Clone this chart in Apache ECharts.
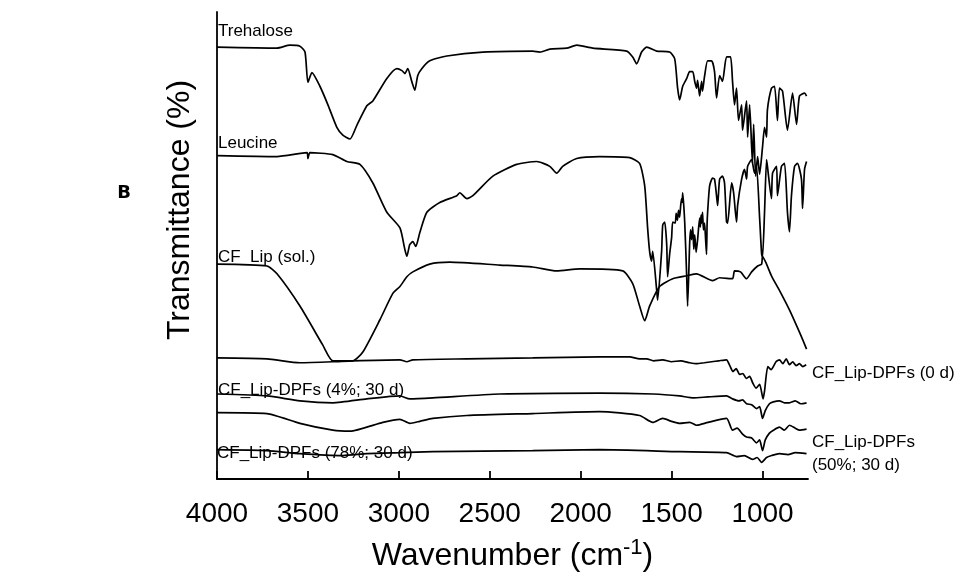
<!DOCTYPE html>
<html>
<head>
<meta charset="utf-8">
<script src="https://cdn.jsdelivr.net/npm/echarts@6/dist/echarts.min.js"></script>
<style>
  html, body { margin: 0; padding: 0; background: #fff; }
  #main { width: 962px; height: 577px; }
</style>
</head>
<body>
<div id="main"></div>
<script>
// wavenumber (cm-1), transmittance (offset, arbitrary units)
const tickValues = [4000, 3500, 3000, 2500, 2000, 1500, 1000];

const trehalose = [
  [4000,442],[3670,441],[3599,444],[3544,443],[3516,437],[3500,406],[3478,416],[3434,402],
  [3390,383],[3341,360],[3308,352],[3269,348],[3231,362],[3176,382],[3143,387],[3066,410],
  [3011,420],[2983,418],[2967,415],[2951,420],[2929,407],[2912,398],[2896,413],[2874,420],
  [2830,428],[2736,433],[2538,437],[2264,438],[2225,437],[2170,440],[2077,441],[2022,444],
  [1934,441],[1747,438],[1714,432],[1692,425],[1665,437],[1637,442],[1582,438],[1511,437],
  [1483,430],[1467,400],[1456,388],[1439,402],[1417,410],[1401,417],[1384,417],[1373,407],
  [1363,400],[1357,408],[1346,392],[1335,407],[1330,397],[1319,412],[1302,428],[1280,428],
  [1264,417],[1253,390],[1236,413],[1220,407],[1198,432],[1176,432],[1165,407],[1154,383],
  [1143,400],[1132,367],[1115,383],[1110,357],[1088,387],[1082,350],[1071,383],[1060,340],
  [1055,323],[1049,363],[1038,310],[1027,330],[1016,312],[1000,340],[989,360],[978,350],
  [973,378],[951,400],[934,402],[918,367],[907,400],[890,397],[863,357],[835,395],
  [813,363],[797,392],[769,395],[758,392]
];

const leucine = [
  [4000,331],[3670,330],[3505,334],[3500,328],[3489,334],[3363,332],[3286,325],[3214,322],
  [3143,303],[3066,273],[2994,257],[2967,235],[2956,228],[2940,240],[2923,243],[2907,238],
  [2885,252],[2846,273],[2775,283],[2681,290],[2665,293],[2626,287],[2593,290],[2483,310],
  [2352,322],[2242,325],[2170,320],[2132,313],[2099,320],[2022,328],[1896,330],[1731,329],
  [1676,323],[1648,300],[1632,257],[1621,233],[1610,223],[1604,233],[1582,193],[1577,183],
  [1555,233],[1549,260],[1538,263],[1527,240],[1522,207],[1511,230],[1500,247],[1494,263],
  [1480,262],[1475,272],[1468,265],[1462,275],[1456,268],[1450,280],[1445,287],[1442,283],
  [1439,293],[1428,263],[1417,207],[1412,177],[1401,240],[1396,255],[1390,245],[1384,258],
  [1378,235],[1373,250],[1365,232],[1357,245],[1346,267],[1342,258],[1338,270],[1335,262],
  [1330,273],[1325,255],[1319,262],[1313,245],[1308,230],[1305,260],[1302,273],
  [1291,300],[1275,308],[1264,307],[1253,290],[1247,280],[1236,307],[1220,310],
  [1209,303],[1198,263],[1192,262],[1170,303],[1159,293],[1143,263],[1137,280],[1115,307],
  [1099,317],[1088,307],[1082,320],[1060,327],[1044,313],[1033,320],[1016,267],[1005,230],
  [1000,227],[989,273],[978,327],[973,320],[951,287],[945,313],[923,320],[918,290],
  [896,320],[879,323],[863,273],[852,253],[841,290],[824,320],[808,323],[786,307],
  [780,277],[769,317],[758,325]
];

const cfLipSol = [
  [4000,220],[3725,218],[3670,210],[3544,177],[3418,137],[3363,121],[3253,121],[3198,130],
  [3104,163],[3033,190],[2994,197],[2956,207],[2923,212],[2830,220],[2720,222],[2445,219],
  [2264,217],[2132,213],[2005,215],[1769,213],[1714,200],[1676,177],[1648,162],[1621,177],
  [1566,197],[1494,205],[1417,208],[1363,210],[1275,203],[1236,206],[1165,205],[1154,213],
  [1121,212],[1088,205],[1060,212],[1027,218],[1005,220],[1000,228],[978,220],[951,208],
  [907,193],[852,173],[780,143],[758,133]
];

const dpf0d = [
  [4000,124],[3725,123],[3544,119],[3363,120],[3253,121],[2994,122],[2956,120],[2923,122],
  [2626,123],[2264,124],[1896,125],[1731,125],[1676,123],[1637,123],[1600,121],[1549,122],
  [1500,120],[1450,121],[1400,119],[1363,118],[1320,119],[1280,120],[1240,121],[1198,122],
  [1180,116],[1163,110],[1145,113],[1126,107],[1108,108],[1090,103],[1071,105],[1053,98],
  [1035,93],[1016,97],[997,82],[989,90],[971,115],[953,112],[926,120],[907,122],
  [888,118],[870,123],[852,117],[834,120],[815,116],[797,118],[779,115],[760,117]
];

const dpf4 = [
  [4000,87],[3725,85],[3544,80],[3363,78],[3176,82],[2994,85],[2940,82],[2813,83],
  [2445,87],[1896,88],[1600,87],[1456,85],[1380,83],[1300,84],[1198,85],[1165,82],
  [1130,80],[1110,81],[1088,77],[1060,76],[1033,72],[1016,74],[1000,62],[985,70],
  [962,77],[940,79],[907,80],[880,78],[852,78],[820,80],[790,77],[758,78]
];

const dpf50 = [
  [4000,68],[3725,67],[3544,57],[3363,50],[3269,49],[3088,58],[2994,61],[2940,57],
  [2885,59],[2813,62],[2626,65],[2264,67],[1896,69],[1676,65],[1604,58],[1549,62],
  [1500,59],[1456,57],[1400,58],[1363,55],[1300,58],[1198,62],[1165,50],[1140,52],
  [1110,46],[1088,43],[1060,42],[1033,37],[1016,40],[1000,29],[985,40],[962,47],
  [940,50],[907,53],[880,50],[852,55],[820,52],[797,50],[758,51]
];

const dpf78 = [
  [4000,30],[3725,29],[3544,26],[3308,24],[3176,26],[2994,27],[2813,28],[2264,29],
  [1896,30],[1456,28],[1198,27],[1143,23],[1100,24],[1055,20],[1030,22],[1005,17],
  [978,22],[950,24],[907,26],[860,25],[820,27],[758,26]
];

const allSeries = [trehalose, leucine, cfLipSol, dpf0d, dpf4, dpf50, dpf78];

const chart = echarts.init(document.getElementById('main'));
const font = "'Liberation Sans', Arial, sans-serif";

function lbl(text, x, y, size) {
  return {
    type: 'text', x: x, y: y,
    style: { text: text, font: size + 'px ' + font, fill: '#000', textVerticalAlign: 'middle' }
  };
}

chart.setOption({
  backgroundColor: '#fff',
  animation: false,
  grid: { left: 217, top: 12, right: 154, bottom: 87 },
  xAxis: {
    type: 'value',
    min: 750, max: 4000,
    inverse: true,
    axisLine: { show: true, lineStyle: { color: '#000', width: 1.8 } },
    axisTick: { show: true, inside: true, length: 8, customValues: tickValues,
      lineStyle: { color: '#000', width: 1.8 } },
    axisLabel: { customValues: tickValues, color: '#000', fontSize: 28, fontFamily: font, margin: 21,
      formatter: function (v) { return String(v); } },
    splitLine: { show: false },
    name: 'Wavenumber (cm{sup|-1})',
    nameLocation: 'middle',
    nameGap: 58,
    nameTextStyle: {
      color: '#000', fontSize: 32, fontFamily: font,
      rich: { sup: { fontSize: 22, fontFamily: font, color: '#000', verticalAlign: 'top', padding: [0, 0, 16, 0] } }
    }
  },
  yAxis: {
    type: 'value',
    min: 0, max: 478,
    axisLine: { show: true, lineStyle: { color: '#000', width: 1.8 } },
    axisTick: { show: false },
    axisLabel: { show: false },
    splitLine: { show: false }
  },
  series: allSeries.map(function (d) {
    return {
      type: 'line', data: d, showSymbol: false, smooth: 0.2,
      lineStyle: { color: '#000', width: 1.7 }
    };
  }),
  graphic: [
    lbl('Trehalose', 218, 31, 17),
    lbl('Leucine', 218, 143, 17),
    lbl('CF_Lip (sol.)', 218, 257, 17),
    lbl('CF_Lip-DPFs (4%; 30 d)', 218, 390, 17),
    lbl('CF_Lip-DPFs (78%; 30 d)', 217, 453, 17),
    lbl('CF_Lip-DPFs (0 d)', 812, 373, 17),
    lbl('CF_Lip-DPFs', 812, 442, 17),
    lbl('(50%; 30 d)', 812, 465, 17),
    {
      type: 'text', x: 180, y: 210, rotation: Math.PI / 2,
      style: { text: 'Transmittance (%)', font: '32px ' + font, fill: '#000',
        textAlign: 'center', textVerticalAlign: 'middle' }
    },
    {
      type: 'text', x: 124, y: 193,
      style: { text: 'B', font: 'bold 18px DejaVu Sans, sans-serif', fill: '#000',
        textAlign: 'center', textVerticalAlign: 'middle' }
    }
  ]
});
</script>
</body>
</html>
